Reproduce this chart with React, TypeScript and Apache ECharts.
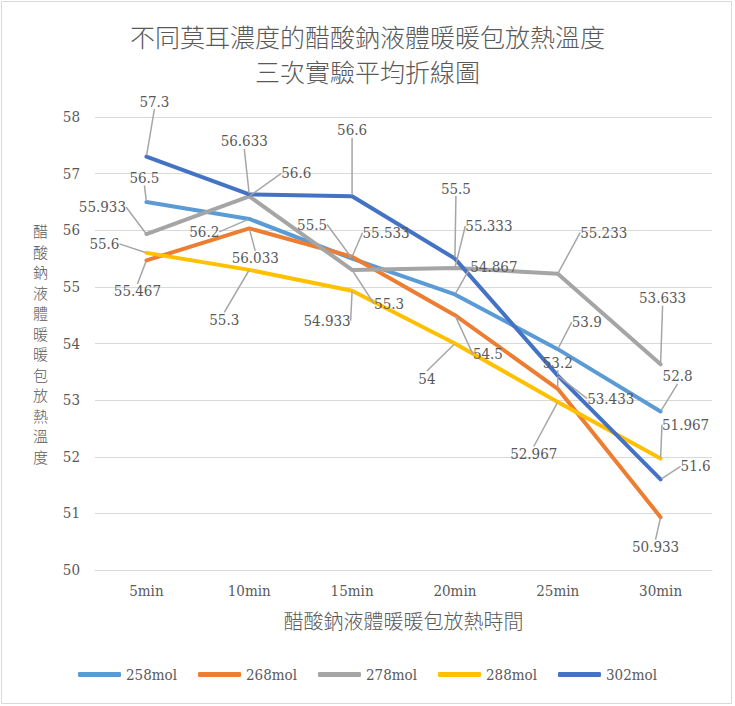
import React, { useEffect, useRef } from "react";
import * as echarts from "echarts";

const categories = ["5min", "10min", "15min", "20min", "25min", "30min"];
const seriesNames = ["258mol", "268mol", "278mol", "288mol", "302mol"];
const s258 = [56.5, 56.2, 55.5, 54.867, 53.9, 52.8];
const s268 = [55.467, 56.033, 55.533, 54.5, 53.2, 50.933];
const s278 = [55.933, 56.6, 55.3, 55.333, 55.233, 53.633];
const s288 = [55.6, 55.3, 54.933, 54, 52.967, 51.967];
const s302 = [57.3, 56.633, 56.6, 55.5, 53.433, 51.6];
const seriesValues = [s258, s268, s278, s288, s302];
const colors = ["#5B9BD5", "#ED7D31", "#A5A5A5", "#FFC000", "#4472C4"];

// label placement (offset of label centre from its point, px)
const labelOffsets: number[][][] = [
  [[-2, -24], [-45, 13], [-40, -34], [39, -27], [29, -27], [17, -35]],
  [[-9, 31], [6, 30], [34, -24], [33, 39], [0, -26], [-5, 30]],
  [[-44, -27], [47, -23], [37, 34], [34, -42], [46, -41], [2, -66]],
  [[-42, -9], [-25, 50], [-25, 30], [-28, 35], [-24, 52], [25, -34]],
  [[8, -55], [-5, -53], [0, -66], [1, -70], [53, 23], [35, -13]],
];

const FONT = "DejaVu Serif Condensed";
const CJK = "Noto Sans CJK TC";
const TXT = "#595959";
const FS = 15;

export default function App() {
  const ref = useRef<HTMLDivElement>(null);
  useEffect(() => {
    document.body.style.margin = "0";
    const chart = echarts.init(ref.current!, undefined, { renderer: "svg" });
    chart.setOption({
      animation: false,
      backgroundColor: "#ffffff",
      textStyle: { fontFamily: FONT },
      title: {
        text: "不同莫耳濃度的醋酸鈉液體暖暖包放熱溫度\n三次實驗平均折線圖",
        left: "center",
        top: 13,
        textStyle: {
          fontFamily: CJK,
          fontSize: 25,
          fontWeight: 300,
          color: TXT,
          lineHeight: 35,
        },
      },
      graphic: [
        {
          type: "rect",
          shape: { x: 1.5, y: 1.5, width: 730, height: 702 },
          style: { fill: "none", stroke: "#D9D9D9", lineWidth: 1 },
          silent: true,
        },
      ],
      legend: {
        data: seriesNames,
        left: "center",
        top: 662,
        icon: "roundRect",
        itemWidth: 43,
        itemHeight: 5,
        itemGap: 21,
        textStyle: { fontFamily: FONT, fontSize: FS, color: TXT },
      },
      grid: { left: 95, right: 23, top: 117, bottom: 136 },
      xAxis: {
        type: "category",
        data: categories,
        boundaryGap: true,
        axisLine: { show: true, lineStyle: { color: "#D9D9D9" } },
        axisTick: { show: false },
        axisLabel: { fontFamily: FONT, fontSize: FS, color: TXT, margin: 13 },
        name: "醋酸鈉液體暖暖包放熱時間",
        nameLocation: "middle",
        nameGap: 40,
        nameTextStyle: { fontFamily: CJK, fontSize: 20, fontWeight: 300, color: TXT },
      },
      yAxis: {
        type: "value",
        min: 50,
        max: 58,
        interval: 1,
        axisLine: { show: false },
        axisTick: { show: false },
        axisLabel: { fontFamily: FONT, fontSize: FS, color: TXT, margin: 15 },
        splitLine: { lineStyle: { color: "#D9D9D9", width: 1 } },
        name: "醋酸鈉液體暖暖包放熱溫度".split("").join("\n"),
        nameLocation: "middle",
        nameRotate: 0,
        nameGap: 47,
        nameTextStyle: { fontFamily: CJK, fontSize: 15, fontWeight: 300, color: TXT, lineHeight: 20.5 },
      },
      series: seriesNames.map((name, si) => ({
        name,
        type: "line",
        data: seriesValues[si],
        color: colors[si],
        symbol: "circle",
        symbolSize: 2,
        showSymbol: true,
        lineStyle: { width: 4, color: colors[si], cap: "round", join: "round" },
        itemStyle: { color: colors[si] },
        label: {
          show: true,
          fontFamily: FONT,
          fontSize: FS,
          color: TXT,
        },
        labelLine: {
          show: true,
          smooth: false,
          minTurnAngle: 90,
          lineStyle: { color: "#A6A6A6", width: 1.5 },
        },
        labelLayout: (p: any) => {
          const off = labelOffsets[si][p.dataIndex];
          const cx = p.rect.x + p.rect.width / 2;
          const cy = p.rect.y + p.rect.height / 2;
          return {
            x: cx + off[0],
            y: cy + off[1],
            align: "center",
            verticalAlign: "middle",
          };
        },
      })),
    });
    return () => chart.dispose();
  }, []);
  return <div ref={ref} style={{ width: 735, height: 706 }} />;
}
